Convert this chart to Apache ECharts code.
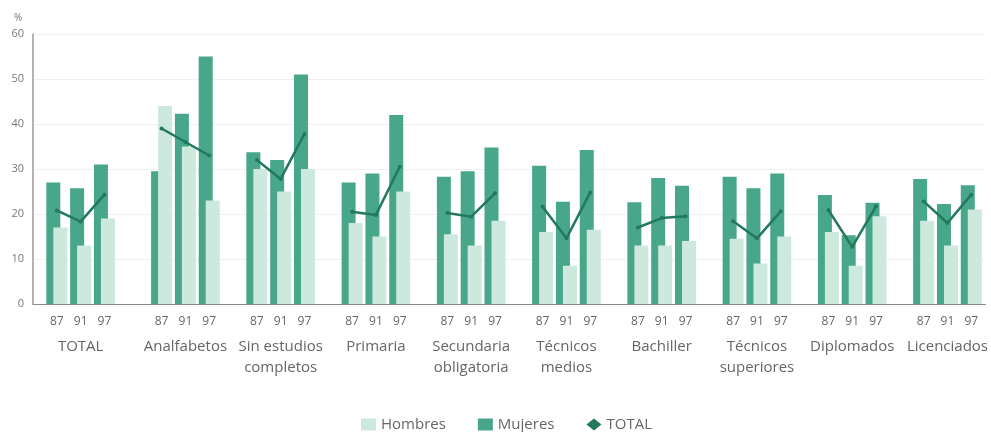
<!DOCTYPE html>
<html>
<head>
<meta charset="utf-8">
<script src="https://cdn.jsdelivr.net/npm/echarts@6/dist/echarts.min.js"></script>
<style>
html,body{margin:0;padding:0;background:#fff;}
#chart{width:991px;height:432px;}
</style>
</head>
<body>
<div id="chart"></div>
<script>
const groups = ['TOTAL','Analfabetos','Sin estudios\ncompletos','Primaria','Secundaria\nobligatoria','Técnicos\nmedios','Bachiller','Técnicos\nsuperiores','Diplomados','Licenciados'];
const years = ['87','91','97'];
const yTicks = [0,10,20,30,40,50,60];
const hombres = [17,13,19, 44,35,23, 30,25,30, 18,15,25, 15.5,13,18.5, 16,8.5,16.5, 13,13,14, 14.5,9,15, 16,8.5,19.5, 18.5,13,21];
const mujeres = [27,25.7,31, 29.5,42.3,55, 33.7,32,51, 27,29,42, 28.3,29.5,34.8, 30.7,22.7,34.2, 22.6,28,26.3, 28.3,25.7,29, 24.2,15.3,22.5, 27.8,22.2,26.4];
const total = [20.8,18.3,24.3, 39,36,33, 32,27.8,37.8, 20.5,19.8,30.5, 20.2,19.4,24.6, 21.6,14.6,24.8, 17,19.1,19.5, 18.4,14.6,20.6, 20.9,12.7,21.7, 22.8,18,24.3];

const font = 'Open Sans';
const firstGap = 0.4; // extra spacing after the TOTAL group
const groupStart = g => g*4 + (g > 0 ? firstGap : 0);
const pos = i => groupStart(Math.floor(i/3)) + (i%3);
const yearPos = hombres.map((_, i) => pos(i));
const groupPos = groups.map((_, g) => groupStart(g) + 1);
const totalData = [];
total.forEach((v, i) => {
  totalData.push([pos(i), v]);
  if (i % 3 === 2 && i < total.length - 1) totalData.push([pos(i) + 1, '-']);
});
const yearAt = v => { const i = yearPos.findIndex(p => Math.abs(p - v) < 0.01); return i < 0 ? '' : years[i % 3]; };
const groupAt = v => { const g = groupPos.findIndex(p => Math.abs(p - v) < 0.01); return g < 0 ? '' : groups[g]; };

const chart = echarts.init(document.getElementById('chart'));
chart.setOption({
  animation: false,
  textStyle: {fontFamily: font},
  title: {text: '%', left: 9, top: 8, textStyle: {fontSize: 10, color: '#777', fontWeight: 'normal', fontFamily: font}},
  grid: {left: 33, right: 3, top: 34, bottom: 128},
  legend: {
    left: 356, top: 412, itemWidth: 15, itemHeight: 12, itemGap: 32,
    textStyle: {fontSize: 15, color: '#666', fontFamily: font},
    data: [{name: 'Hombres', icon: 'rect'}, {name: 'Mujeres', icon: 'rect'}, {name: 'TOTAL', icon: 'diamond'}]
  },
  xAxis: [{
    type: 'value', min: -1, max: 39,
    axisLine: {show: true, lineStyle: {color: '#8a8a8a', width: 1}},
    axisTick: {show: false}, splitLine: {show: false},
    axisLabel: {
      customValues: yearPos, margin: 12, fontSize: 12, color: '#666', fontFamily: font,
      formatter: v => yearAt(v)
    }
  }, {
    type: 'value', min: -1, max: 39, position: 'bottom',
    axisLine: {show: false}, axisTick: {show: false}, splitLine: {show: false},
    axisLabel: {
      customValues: groupPos, margin: 32, fontSize: 15, color: '#666', lineHeight: 21, fontFamily: font,
      formatter: v => groupAt(v)
    }
  }],
  yAxis: {
    type: 'value', min: yTicks[0], max: yTicks[yTicks.length-1], interval: 10,
    axisLine: {show: true, onZero: false, lineStyle: {color: '#9a9a9a', width: 1.5}},
    axisTick: {show: false},
    splitLine: {show: true, lineStyle: {color: '#f0f0f0', width: 1}},
    axisLabel: {fontSize: 11, color: '#777', margin: 9, fontFamily: font}
  },
  series: [{
    name: 'Mujeres', type: 'bar', barWidth: 14, barGap: '-50%',
    itemStyle: {color: '#48a78b'},
    data: mujeres.map((v, i) => [pos(i), v])
  }, {
    name: 'Hombres', type: 'bar', barWidth: 14, barGap: '-50%',
    itemStyle: {color: '#cde8dd'},
    data: hombres.map((v, i) => [pos(i), v])
  }, {
    name: 'TOTAL', type: 'line', connectNulls: false,
    symbol: 'circle', symbolSize: 4, showSymbol: true,
    lineStyle: {color: '#22795d', width: 2.5},
    itemStyle: {color: '#22795d'},
    data: totalData, z: 5
  }]
});
</script>
</body>
</html>
